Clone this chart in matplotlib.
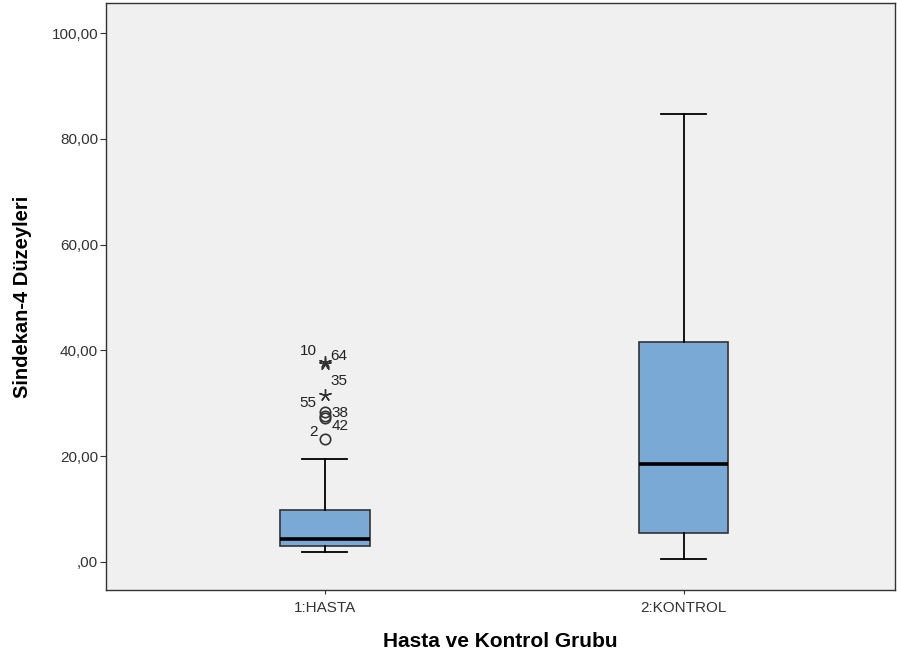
import matplotlib
matplotlib.use("Agg")
import matplotlib.pyplot as plt
from matplotlib.ticker import FuncFormatter

plt.rcParams['font.family'] = ['Liberation Sans', 'DejaVu Sans']

# group labels
groups = ["1:HASTA", "2:KONTROL"]

# box statistics
whislo = [1.9, 0.5]
q1 = [3.0, 5.5]
med = [4.3, 18.5]
q3 = [9.8, 41.6]
whishi = [19.5, 84.7]

# outliers for HASTA: value, case label, marker kind
hasta_out_vals = [37.8, 37.4, 31.6, 28.3, 27.6, 27.3, 23.3]
hasta_out_ids = ["10", "64", "35", "55", "38", "42", "2"]
hasta_out_kind = ["*", "*", "*", "o", "o", "o", "o"]
# label offsets (points) relative to marker
label_dx = [-18, 4, 4, -18, 5, 5, -11]
label_dy = [3, 1, 5, 2, -3, -11, 0]

box_color = "#7BA9D6"

fig = plt.figure(figsize=(8.97, 6.56), dpi=100)
ax = fig.add_axes([0.118, 0.1006, 0.88, 0.895])
ax.set_facecolor("#f0f0f0")

stats = []
for i, g in enumerate(groups):
    stats.append(dict(label=g, whislo=whislo[i], q1=q1[i], med=med[i],
                      q3=q3[i], whishi=whishi[i], fliers=[]))

ax.bxp(stats, positions=[1, 2], widths=0.25, capwidths=0.125,
       patch_artist=True, showfliers=False,
       boxprops=dict(facecolor=box_color, edgecolor="#333333", linewidth=1.2),
       medianprops=dict(color="black", linewidth=2.6),
       whiskerprops=dict(color="black", linewidth=1.3),
       capprops=dict(color="black", linewidth=1.3))

for v, lab, k, dx, dy in zip(hasta_out_vals, hasta_out_ids, hasta_out_kind, label_dx, label_dy):
    if k == "*":
        ax.plot(1, v, marker=(5, 2, 0), markersize=9, color="#333333",
                markeredgewidth=1.0, linestyle="none")
    else:
        ax.plot(1, v, marker="o", markersize=7.5, markerfacecolor="none",
                markeredgecolor="#333333", markeredgewidth=1.2, linestyle="none")
    ax.annotate(lab, (1, v), xytext=(dx, dy), textcoords="offset points",
                fontsize=11, color="#222222", va="bottom", ha="left")

ax.set_xlim(0.39, 2.59)
ax.set_ylim(-5.3, 105.7)
ax.set_yticks([0, 20, 40, 60, 80, 100])
ax.yaxis.set_major_formatter(FuncFormatter(
    lambda v, p: ",00" if v == 0 else f"{v:.2f}".replace(".", ",")))
ax.set_xticks([1, 2])
ax.set_xticklabels(groups)
ax.tick_params(axis="both", labelsize=11, colors="#333333", direction="out")
ax.tick_params(axis="y", length=4.5, pad=1)
ax.tick_params(axis="x", length=3, pad=5)

for s in ax.spines.values():
    s.set_color("#333333")
    s.set_linewidth(1.0)

ax.set_ylabel("Sindekan-4 Düzeyleri", fontsize=14.5, fontweight="bold", labelpad=14)
ax.set_xlabel("Hasta ve Kontrol Grubu", fontsize=15, fontweight="bold", labelpad=12)

fig.savefig("out.png", dpi=100, facecolor="white")
